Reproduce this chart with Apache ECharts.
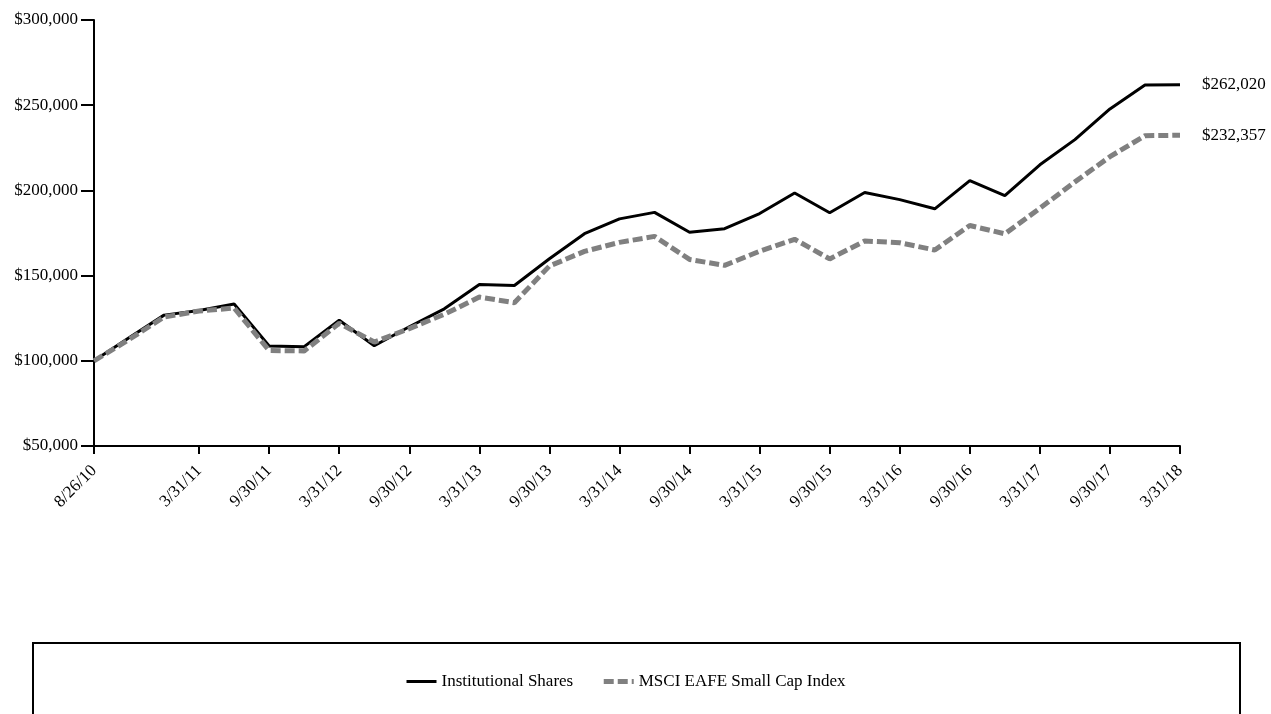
<!DOCTYPE html>
<html>
<head>
<meta charset="utf-8">
<title>Growth of $100,000</title>
<script src="https://cdn.jsdelivr.net/npm/echarts@6/dist/echarts.min.js"></script>
<style>
  html, body { margin: 0; padding: 0; background: #fff; }
  #chart { width: 1271px; height: 714px; }
</style>
</head>
<body>
<div id="chart"></div>
<script>
// Quarter-end valuation dates (the first point is the inception date)
const dates = [
  '8/26/10', '9/30/10', '12/31/10', '3/31/11', '6/30/11', '9/30/11', '12/31/11',
  '3/31/12', '6/30/12', '9/30/12', '12/31/12', '3/31/13', '6/30/13', '9/30/13',
  '12/31/13', '3/31/14', '6/30/14', '9/30/14', '12/31/14', '3/31/15', '6/30/15',
  '9/30/15', '12/31/15', '3/31/16', '6/30/16', '9/30/16', '12/31/16', '3/31/17',
  '6/30/17', '9/30/17', '12/31/17', '3/31/18'
];

// Value of a hypothetical $100,000 investment
const institutionalShares = [
  100000, 113500, 126800, 129500, 133300, 108700, 108300, 123800, 108800, 120000,
  130500, 144800, 144200, 159900, 174600, 183300, 187100, 175400, 177500, 186400,
  198500, 186900, 198800, 194600, 189200, 205700, 197000, 215000, 229800, 247800,
  261800, 262020
];
const msciEafeSmallCap = [
  100000, 112500, 125700, 129200, 131000, 106000, 105800, 122000, 111000, 118900,
  127300, 137400, 134100, 155600, 164200, 169500, 173000, 159500, 156000, 164300,
  171300, 159800, 170300, 169300, 165000, 179400, 174500, 189500, 205000, 219800,
  232100, 232357
];

const seriesNames = ['Institutional Shares', 'MSCI EAFE Small Cap Index'];

const FONT = '"Liberation Serif", "Times New Roman", serif';
const FONT_SIZE = 17;
const money = v => '$' + Math.round(v).toLocaleString('en-US');

// Show the inception date, then every half-year from 3/31/11 on
const showDate = idx => idx === 0 || (idx >= 3 && idx % 2 === 1);

const chart = echarts.init(document.getElementById('chart'), null, { renderer: 'canvas' });

const endLabel = {
  show: true,
  formatter: p => money(p.value),
  distance: 22,
  fontFamily: FONT,
  fontSize: FONT_SIZE,
  color: '#000'
};

chart.setOption({
  animation: false,
  backgroundColor: '#ffffff',
  textStyle: { fontFamily: FONT, color: '#000' },
  grid: { left: 94, right: 91, top: 20, bottom: 268, containLabel: false },
  xAxis: {
    type: 'category',
    data: dates,
    boundaryGap: false,
    axisLine: { lineStyle: { color: '#000', width: 2 } },
    axisTick: { show: true, interval: showDate, length: 8, lineStyle: { color: '#000', width: 2 } },
    axisLabel: {
      interval: showDate,
      rotate: 45,
      margin: 22,
      fontFamily: FONT,
      fontSize: FONT_SIZE,
      color: '#000'
    },
    splitLine: { show: false }
  },
  yAxis: {
    type: 'value',
    min: 50000,
    max: 300000,
    interval: 50000,
    axisLine: { show: true, lineStyle: { color: '#000', width: 2 } },
    axisTick: { show: true, length: 13, lineStyle: { color: '#000', width: 2 } },
    axisLabel: {
      formatter: money,
      margin: 16,
      fontFamily: FONT,
      fontSize: FONT_SIZE,
      color: '#000'
    },
    splitLine: { show: false }
  },
  legend: {
    left: 400,
    top: 668,
    itemWidth: 30,
    itemHeight: 16,
    itemGap: 28,
    itemStyle: { opacity: 0 },
    lineStyle: { width: 'inherit' },
    textStyle: { fontFamily: FONT, fontSize: FONT_SIZE, color: '#000' },
    data: seriesNames
  },
  graphic: [
    {
      type: 'rect',
      shape: { x: 33, y: 643, width: 1207, height: 90 },
      style: { fill: 'none', stroke: '#000', lineWidth: 2 },
      silent: true
    }
  ],
  series: [
    {
      name: seriesNames[1],
      type: 'line',
      data: msciEafeSmallCap,
      symbol: 'none',
      lineStyle: { color: '#808080', width: 5, type: [10, 4] },
      itemStyle: { color: '#808080' },
      endLabel: endLabel,
      z: 2
    },
    {
      name: seriesNames[0],
      type: 'line',
      data: institutionalShares,
      symbol: 'none',
      lineStyle: { color: '#000', width: 3 },
      itemStyle: { color: '#000' },
      endLabel: endLabel,
      z: 1
    }
  ]
});
</script>
</body>
</html>
